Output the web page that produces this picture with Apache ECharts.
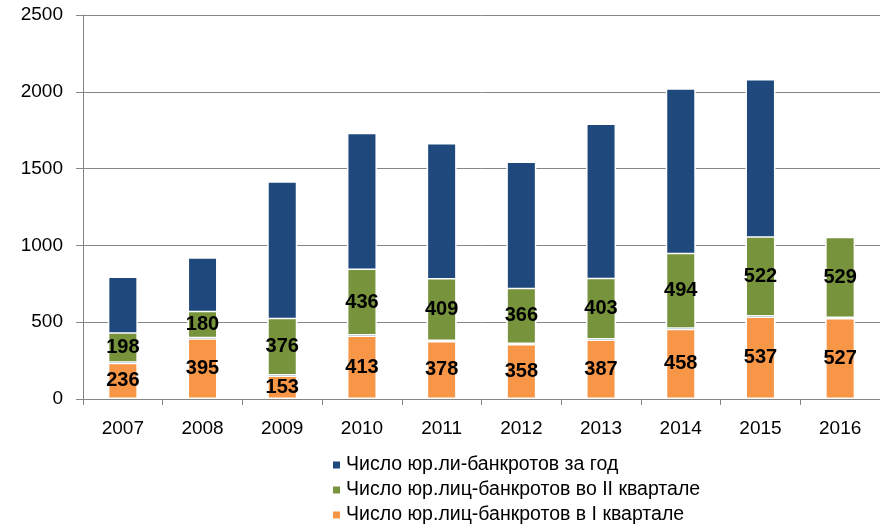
<!DOCTYPE html>
<html lang="ru">
<head>
    <meta charset="UTF-8">
    <title>Банкротства юр.лиц</title>
    <script src="https://cdn.jsdelivr.net/npm/echarts@6/dist/echarts.min.js"></script>
    <style>
        html, body { margin: 0; padding: 0; background: #fff; }
        #main { width: 880px; height: 526px; }
    </style>
</head>
<body>
<div id="main"></div>
<script type="text/javascript">
    var years = ['2007', '2008', '2009', '2010', '2011', '2012', '2013', '2014', '2015', '2016'];
    // годовое число (оценка по высоте столбика), за 2016 данных нет
    var yearTotal = [797, 923, 1417, 1734, 1666, 1547, 1793, 2023, 2084, null];
    var q2 = [198, 180, 376, 436, 409, 366, 403, 494, 522, 529];
    var q1 = [236, 395, 153, 413, 378, 358, 387, 458, 537, 527];
    var names = [
        'Число юр.ли-банкротов за год',
        'Число юр.лиц-банкротов во II квартале',
        'Число юр.лиц-банкротов в I квартале'
    ];

    var font = 'Liberation Sans, Arial, sans-serif';
    var chart = echarts.init(document.getElementById('main'));

    var labelStyle = {
        show: true,
        position: 'inside',
        color: '#000',
        fontWeight: 'bold',
        fontSize: 20,
        fontFamily: font
    };

    var option = {
        animation: false,
        textStyle: { fontFamily: font },
        grid: {
            left: 83,
            right: 0,
            top: 15,
            bottom: 127
        },
        legend: {
            orient: 'vertical',
            left: 326,
            top: 450,
            height: 120,
            itemWidth: 9,
            itemHeight: 9,
            itemGap: 5,
            icon: 'rect',
            data: names,
            textStyle: { fontSize: 19.5, color: '#000', fontFamily: font }
        },
        xAxis: {
            type: 'category',
            data: years,
            axisLine: { lineStyle: { color: '#868686', width: 1 } },
            axisTick: { show: true, length: 6, lineStyle: { color: '#868686' } },
            axisLabel: { color: '#000', fontSize: 19, margin: 20, fontFamily: font }
        },
        yAxis: {
            type: 'value',
            min: 0,
            max: 2500,
            interval: 500,
            axisLine: { show: true, lineStyle: { color: '#868686', width: 1 } },
            axisTick: { show: true, length: 7, lineStyle: { color: '#868686' } },
            axisLabel: {
                color: '#000', fontSize: 19, margin: 20, fontFamily: font,
                formatter: function (v) { return String(v); }
            },
            splitLine: { lineStyle: { color: '#868686', width: 1 } }
        },
        series: [
            {
                name: names[0],
                type: 'bar',
                barWidth: 30,
                barGap: '-100%',
                data: yearTotal,
                itemStyle: { color: '#1F497D', borderColor: '#fff', borderWidth: 1.5 }
            },
            {
                name: names[2],
                type: 'bar',
                stack: 'q',
                barWidth: 30,
                data: q1,
                label: labelStyle,
                itemStyle: { color: '#F79646', borderColor: '#fff', borderWidth: 1.5 }
            },
            {
                name: names[1],
                type: 'bar',
                stack: 'q',
                barWidth: 30,
                data: q2,
                label: labelStyle,
                itemStyle: { color: '#77933C', borderColor: '#fff', borderWidth: 1.5 }
            }
        ]
    };
    chart.setOption(option);
</script>
</body>
</html>
